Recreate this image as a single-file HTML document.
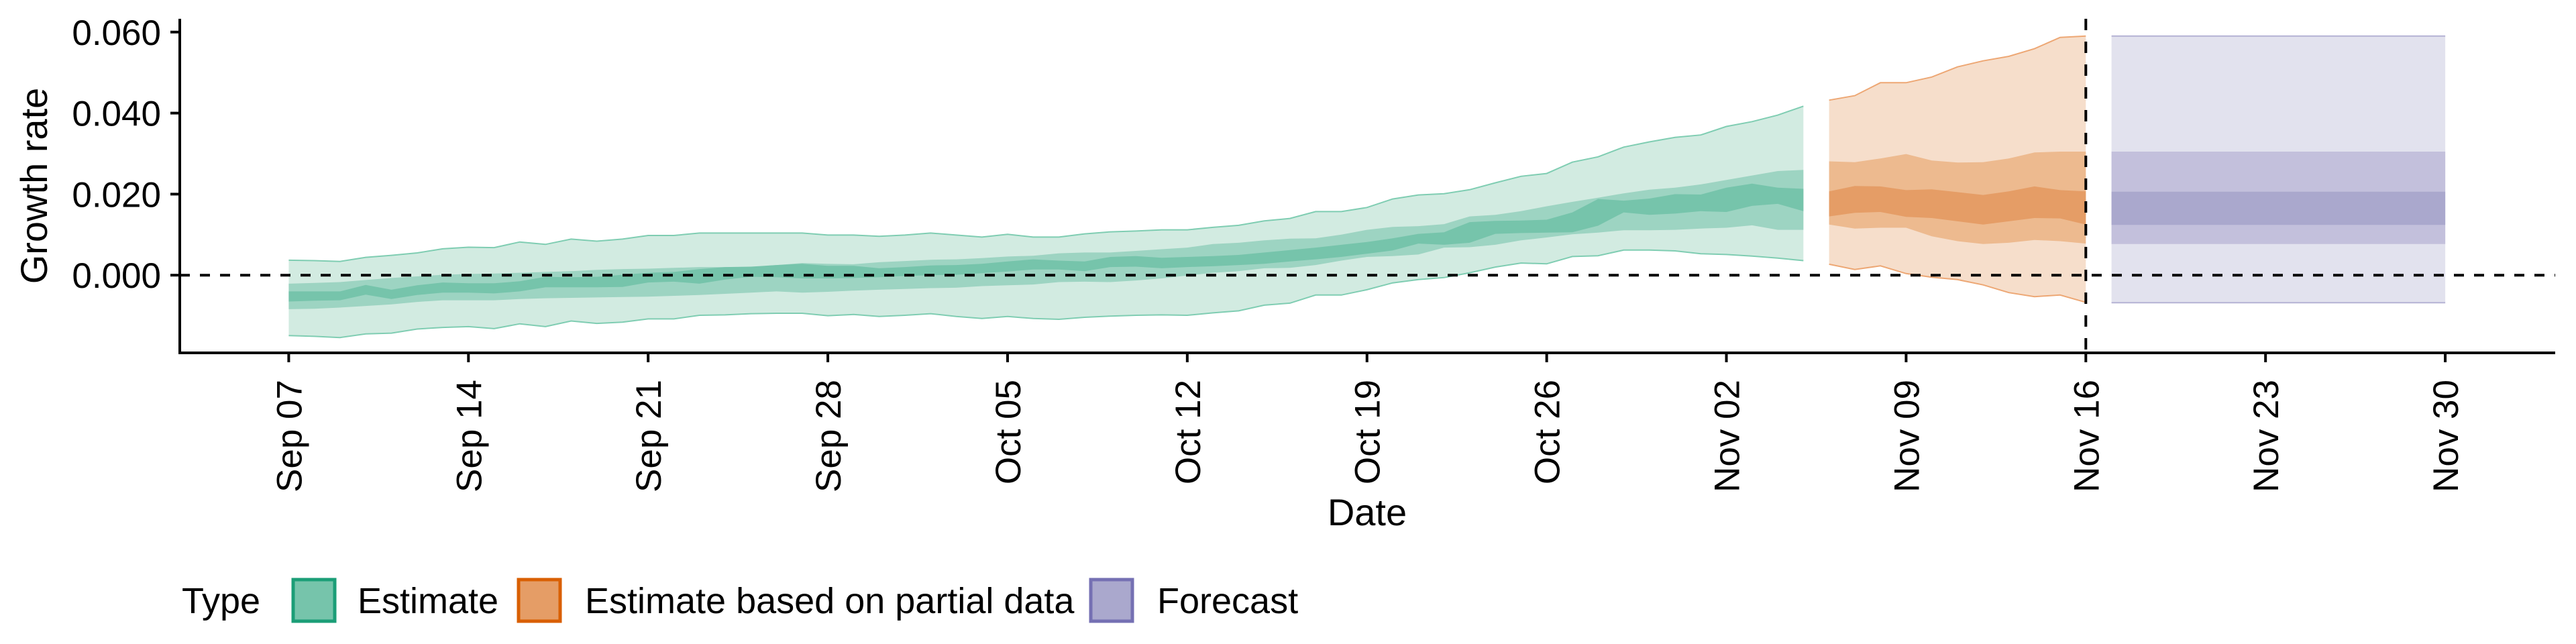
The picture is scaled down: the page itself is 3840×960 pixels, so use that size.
<!DOCTYPE html>
<html><head><meta charset="utf-8">
<style>
html,body{margin:0;padding:0;background:#fff;}
svg{display:block;font-family:"Liberation Sans",Arial,sans-serif;}
</style></head>
<body>
<svg id="chart" width="3840" height="960" viewBox="0 0 3840 960" xmlns="http://www.w3.org/2000/svg">
  <rect x="0" y="0" width="3840" height="960" fill="#fff"/>
  <g id="bands"></g>
  <g id="axes"></g>
  <text x="70" y="277" font-size="56" text-anchor="middle" transform="rotate(-90 70 277)">Growth rate</text>
  <text x="2038" y="783" font-size="56" text-anchor="middle">Date</text>
  <g>
    <text x="271" y="914" font-size="54">Type</text>
    <g>
      <rect x="437" y="864" width="62" height="62" fill="#76c4ab" stroke="#1b9e77" stroke-width="5"/>
      <text x="533" y="914" font-size="54">Estimate</text>
    </g>
    <g>
      <rect x="773" y="864" width="62" height="62" fill="#e59d66" stroke="#d95f02" stroke-width="5"/>
      <text x="872" y="914" font-size="54">Estimate based on partial data</text>
    </g>
    <g>
      <rect x="1626" y="864" width="62" height="62" fill="#aaa8cd" stroke="#7570b3" stroke-width="5"/>
      <text x="1725" y="914" font-size="54">Forecast</text>
    </g>
  </g>
</svg>
<script>
// ---- data (days since Sep 07) ----
const gOutUp = [0.0037,0.0036,0.0034,0.0044,0.0049,0.0055,0.0065,0.0069,0.0068,0.0082,0.0076,0.0089,0.0084,0.0089,0.0098,0.0098,0.0104,0.0104,0.0104,0.0104,0.0104,0.0099,0.0099,0.0096,0.0099,0.0104,0.0099,0.0094,0.0101,0.0094,0.0094,0.0102,0.0107,0.0109,0.0112,0.0112,0.0118,0.0123,0.0134,0.0140,0.0157,0.0157,0.0167,0.0188,0.0198,0.0201,0.0211,0.0228,0.0244,0.0251,0.0279,0.0292,0.0316,0.0329,0.0340,0.0346,0.0367,0.0379,0.0395,0.0417];
const gOutLo = [-0.0149,-0.0151,-0.0154,-0.0145,-0.0143,-0.0133,-0.0129,-0.0127,-0.0132,-0.0120,-0.0127,-0.0113,-0.0119,-0.0116,-0.0108,-0.0108,-0.0099,-0.0098,-0.0095,-0.0094,-0.0094,-0.0100,-0.0097,-0.0102,-0.0099,-0.0095,-0.0102,-0.0107,-0.0102,-0.0107,-0.0109,-0.0104,-0.0101,-0.0099,-0.0098,-0.0099,-0.0093,-0.0088,-0.0074,-0.0069,-0.0049,-0.0049,-0.0036,-0.0019,-0.0011,-0.0006,0.0006,0.0020,0.0030,0.0028,0.0046,0.0048,0.0062,0.0062,0.0060,0.0053,0.0051,0.0047,0.0042,0.0036];
const gMidUp = [-0.0021,-0.0019,-0.0017,-0.0012,-0.0007,-0.0003,0.0001,0.0003,0.0004,0.0006,0.0008,0.0010,0.0013,0.0015,0.0016,0.0018,0.0020,0.0020,0.0020,0.0025,0.0030,0.0028,0.0027,0.0032,0.0035,0.0038,0.0039,0.0042,0.0046,0.0048,0.0054,0.0056,0.0056,0.0060,0.0064,0.0068,0.0077,0.0080,0.0086,0.0090,0.0091,0.0100,0.0112,0.0119,0.0121,0.0126,0.0145,0.0149,0.0158,0.0170,0.0181,0.0191,0.0202,0.0211,0.0216,0.0224,0.0235,0.0246,0.0257,0.0260];
const gMidLo = [-0.0084,-0.0083,-0.0080,-0.0076,-0.0072,-0.0066,-0.0062,-0.0062,-0.0062,-0.0059,-0.0057,-0.0056,-0.0055,-0.0054,-0.0053,-0.0051,-0.0049,-0.0046,-0.0043,-0.0040,-0.0043,-0.0041,-0.0038,-0.0036,-0.0034,-0.0032,-0.0031,-0.0027,-0.0025,-0.0023,-0.0017,-0.0016,-0.0017,-0.0013,-0.0008,-0.0001,0.0006,0.0010,0.0017,0.0018,0.0025,0.0036,0.0045,0.0047,0.0051,0.0068,0.0069,0.0075,0.0086,0.0093,0.0101,0.0105,0.0111,0.0111,0.0112,0.0115,0.0117,0.0123,0.0112,0.0112];
const gInUp = [-0.0040,-0.0040,-0.0040,-0.0024,-0.0036,-0.0025,-0.0018,-0.0020,-0.0020,-0.0015,-0.0004,-0.0005,-0.0004,0.0001,0.0006,0.0008,0.0015,0.0020,0.0021,0.0025,0.0028,0.0023,0.0023,0.0017,0.0020,0.0024,0.0025,0.0028,0.0034,0.0039,0.0036,0.0034,0.0045,0.0047,0.0043,0.0045,0.0047,0.0050,0.0056,0.0062,0.0068,0.0075,0.0082,0.0091,0.0102,0.0106,0.0131,0.0134,0.0135,0.0137,0.0155,0.0188,0.0184,0.0189,0.0200,0.0199,0.0216,0.0226,0.0216,0.0213];
const gInLo = [-0.0065,-0.0063,-0.0062,-0.0048,-0.0059,-0.0049,-0.0043,-0.0043,-0.0045,-0.0040,-0.0030,-0.0030,-0.0030,-0.0029,-0.0018,-0.0016,-0.0021,-0.0011,-0.0004,-0.0005,-0.0008,-0.0008,-0.0007,-0.0005,-0.0002,0.0000,0.0001,0.0005,0.0009,0.0014,0.0014,0.0010,0.0020,0.0021,0.0017,0.0020,0.0022,0.0025,0.0028,0.0034,0.0039,0.0045,0.0053,0.0061,0.0078,0.0075,0.0080,0.0102,0.0104,0.0105,0.0106,0.0122,0.0155,0.0149,0.0152,0.0158,0.0156,0.0171,0.0176,0.0158];
const gStart = 0;

const oStart = 60;
const oOutUp = [0.0432,0.0443,0.0475,0.0475,0.0489,0.0514,0.0529,0.0540,0.0559,0.0587,0.0590];
const oOutLo = [0.0027,0.0014,0.0023,0.0004,-0.0005,-0.0011,-0.0024,-0.0043,-0.0053,-0.0049,-0.0067];
const oMidUp = [0.0281,0.0279,0.0288,0.0299,0.0283,0.0278,0.0279,0.0288,0.0303,0.0305,0.0305];
const oMidLo = [0.0125,0.0115,0.0117,0.0117,0.0096,0.0084,0.0077,0.0080,0.0087,0.0084,0.0078];
const oInUp = [0.0207,0.0220,0.0219,0.0210,0.0212,0.0205,0.0198,0.0207,0.0219,0.0210,0.0207];
const oInLo = [0.0145,0.0154,0.0156,0.0144,0.0141,0.0133,0.0125,0.0133,0.0141,0.0140,0.0125];

const fStart = 71;
const fOutUp = [0.059,0.059,0.059,0.059,0.059,0.059,0.059,0.059,0.059,0.059,0.059,0.059,0.059,0.059];
const fOutLo = [-0.0068,-0.0068,-0.0068,-0.0068,-0.0068,-0.0068,-0.0068,-0.0068,-0.0068,-0.0068,-0.0068,-0.0068,-0.0068,-0.0068];
const fMidUp = [0.0305,0.0305,0.0305,0.0305,0.0305,0.0305,0.0305,0.0305,0.0305,0.0305,0.0305,0.0305,0.0305,0.0305];
const fMidLo = [0.0077,0.0077,0.0077,0.0077,0.0077,0.0077,0.0077,0.0077,0.0077,0.0077,0.0077,0.0077,0.0077,0.0077];
const fInUp = [0.0206,0.0206,0.0206,0.0206,0.0206,0.0206,0.0206,0.0206,0.0206,0.0206,0.0206,0.0206,0.0206,0.0206];
const fInLo = [0.0124,0.0124,0.0124,0.0124,0.0124,0.0124,0.0124,0.0124,0.0124,0.0124,0.0124,0.0124,0.0124,0.0124];

const xTickDays = [0,7,14,21,28,35,42,49,56,63,70,77,84];
const xTickLabels = ["Sep 07","Sep 14","Sep 21","Sep 28","Oct 05","Oct 12","Oct 19","Oct 26","Nov 02","Nov 09","Nov 16","Nov 23","Nov 30"];
const yTickValues = [0,0.02,0.04,0.06];
const yTickLabels = ["0.000","0.020","0.040","0.060"];
const forecastDateDay = 70;

// ---- scales ----
const X0 = 268, X1 = 3809, YB = 526, YT = 28;
function xs(d){ return 430.4 + 38.27*d; }
function ys(v){ return 410.2 - v*6040; }

const NS = "http://www.w3.org/2000/svg";
const bands = document.getElementById('bands');
const axes = document.getElementById('axes');

function band(start, up, lo, fill, name, stroke){
  let pts = [];
  for(let i=0;i<up.length;i++) pts.push(xs(start+i).toFixed(1)+','+ys(up[i]).toFixed(1));
  for(let i=lo.length-1;i>=0;i--) pts.push(xs(start+i).toFixed(1)+','+ys(lo[i]).toFixed(1));
  const p = document.createElementNS(NS,'polygon');
  p.setAttribute('points', pts.join(' '));
  p.setAttribute('fill', fill);
  
  
  bands.appendChild(p);
  if(stroke){
    [up, lo].forEach(function(arr, k){
      const l = document.createElementNS(NS,'polyline');
      l.setAttribute('points', arr.map(function(v,i){return xs(start+i).toFixed(1)+','+ys(v).toFixed(1);}).join(' '));
      l.setAttribute('fill','none');
      l.setAttribute('stroke', stroke);
      l.setAttribute('stroke-width','2');
      
      
      bands.appendChild(l);
    });
  }
}
band(gStart, gOutUp, gOutLo, '#d2ebe1', 'estimate-band-90', '#7fcdb2');
band(gStart, gMidUp, gMidLo, '#9dd4c2', 'estimate-band-50', null);
band(gStart, gInUp, gInLo, '#76c4ab', 'estimate-band-20', null);
band(oStart, oOutUp, oOutLo, '#f6decb', 'partial-band-90', '#eda774');
band(oStart, oMidUp, oMidLo, '#edba8f', 'partial-band-50', null);
band(oStart, oInUp, oInLo, '#e59d66', 'partial-band-20', null);
band(fStart, fOutUp, fOutLo, '#e2e2ee', 'forecast-band-90', '#b4b2d4');
band(fStart, fMidUp, fMidLo, '#c3c0dc', 'forecast-band-50', null);
band(fStart, fInUp, fInLo, '#aaa8cd', 'forecast-band-20', null);

function line(x1,y1,x2,y2,w,dash,name){
  const l = document.createElementNS(NS,'line');
  l.setAttribute('x1',x1); l.setAttribute('y1',y1); l.setAttribute('x2',x2); l.setAttribute('y2',y2);
  l.setAttribute('stroke','#000'); l.setAttribute('stroke-width',w);
  if(dash) l.setAttribute('stroke-dasharray',dash);
  
  
  axes.appendChild(l);
  return l;
}
// zero line and forecast date line
line(X0, ys(0), X1, ys(0), 4, '15,15', 'zero-reference-line');
line(xs(forecastDateDay), YT, xs(forecastDateDay), YB, 4, '17,17', 'forecast-date-line');
// axes
line(X0, YT, X0, YB+2, 4, null, 'y-axis-line');
line(X0-2, YB, X1, YB, 4, null, 'x-axis-line');

yTickValues.forEach(function(v,i){
  line(X0-14, ys(v), X0, ys(v), 4, null, 'y-tick');
  const t = document.createElementNS(NS,'text');
  t.setAttribute('x', 240); t.setAttribute('y', ys(v)+19);
  t.setAttribute('font-size','53'); t.setAttribute('text-anchor','end');
  t.textContent = yTickLabels[i];
  
  
  axes.appendChild(t);
});
xTickDays.forEach(function(d,i){
  const x = xs(d);
  line(x, YB, x, YB+14, 4, null, 'x-tick');
  const t = document.createElementNS(NS,'text');
  t.setAttribute('x', x+19); t.setAttribute('y', 566);
  t.setAttribute('font-size','53'); t.setAttribute('text-anchor','end');
  t.setAttribute('transform','rotate(-90 '+(x+19)+' 566)');
  t.setAttribute('transform','rotate(-90 '+x+' 566) translate(0 19)');
  t.setAttribute('x', x);
  t.textContent = xTickLabels[i];
  
  
  axes.appendChild(t);
});
</script>
</body></html>
